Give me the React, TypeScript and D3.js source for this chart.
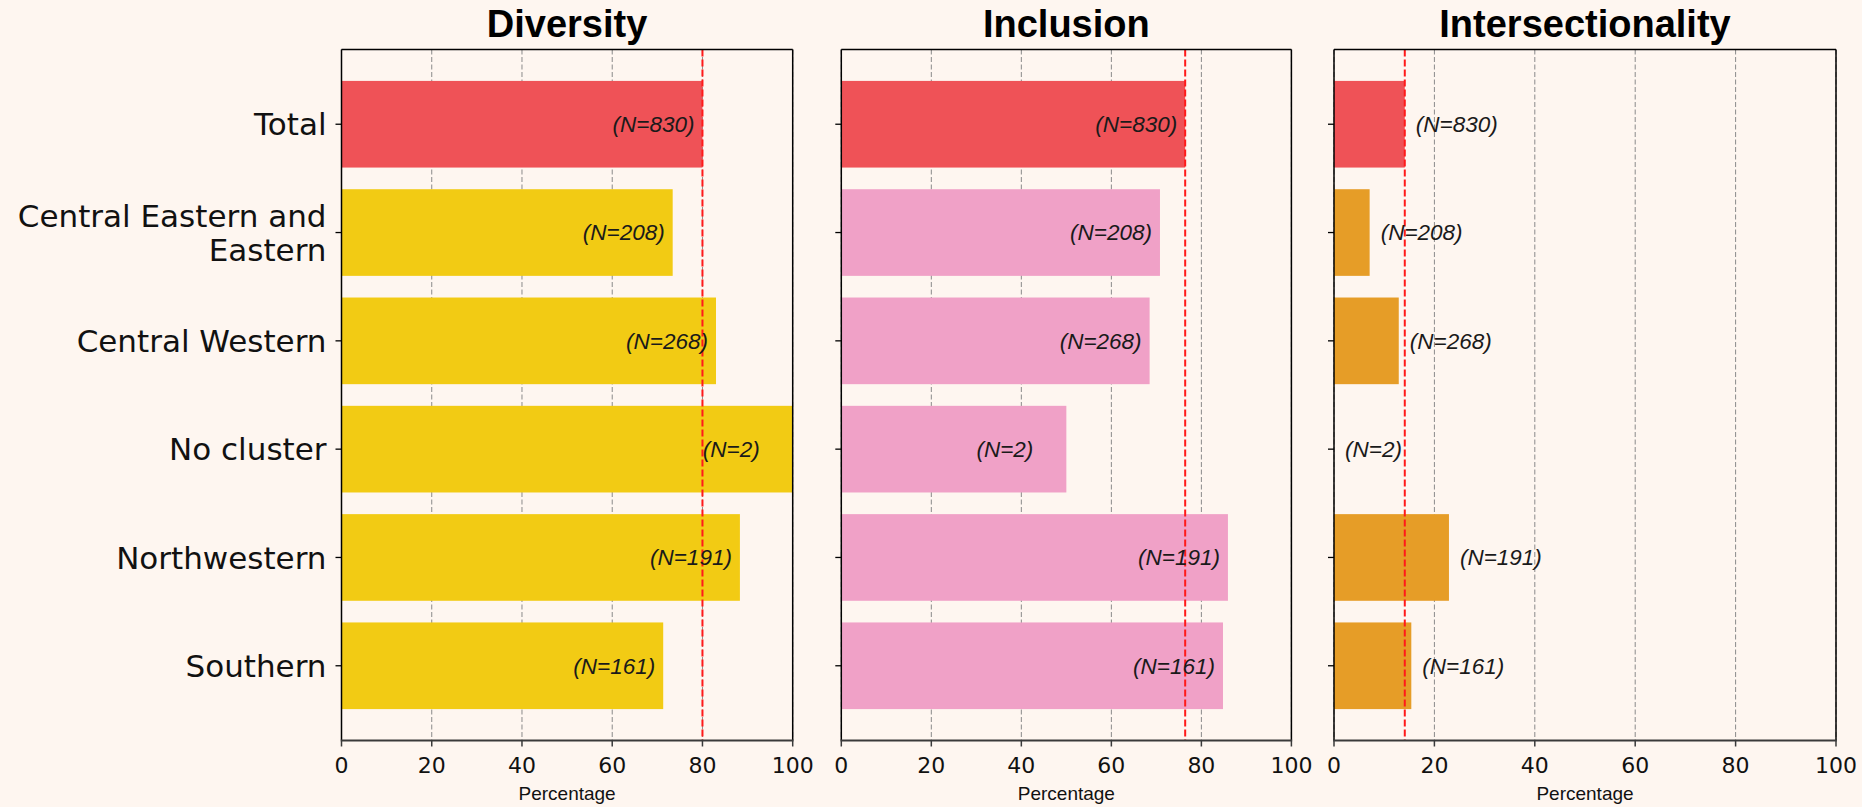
import React, { useEffect } from "react";
import * as d3 from "d3";

const categories = [
  "Total",
  "Central Eastern and\nEastern",
  "Central Western",
  "No cluster",
  "Northwestern",
  "Southern",
];
const sampleSizes = [830, 208, 268, 2, 191, 161];
const diversityValues = [80.0, 73.4, 83.0, 100, 88.3, 71.3];
const inclusionValues = [76.4, 70.8, 68.5, 50.0, 85.9, 84.8];
const intersectionalityValues = [14.1, 7.1, 12.9, 0, 22.9, 15.4];
const xTickValues = [0, 20, 40, 60, 80, 100];
const panelTitles = ["Diversity", "Inclusion", "Intersectionality"];
const xAxisLabel = "Percentage";

const BG = "#fef6f0";
const TOTAL_COLOR = "#ef5257";
const panelColors = ["#f2cb14", "#f0a1c7", "#e69d27"];

const W = 1862;
const H = 807;
const TOP = 49.5;
const BOTTOM = 740.5;
const panelX: [number, number][] = [
  [341.5, 792.7],
  [841.3, 1291.4],
  [1334, 1836],
];

type PanelProps = {
  idx: number;
  values: number[];
  labelsInside: boolean;
  showYLabels: boolean;
};

function Panel({ idx, values, labelsInside, showYLabels }: PanelProps) {
  const [x0, x1] = panelX[idx];
  const x = d3.scaleLinear().domain([0, 100]).range([x0, x1]);
  const y = d3
    .scaleBand<string>()
    .domain(categories)
    .range([TOP, BOTTOM])
    .paddingInner(0.2)
    .paddingOuter(0.29);
  const refValue = values[0];
  const cx = (x0 + x1) / 2;

  return (
    <g>
      <text
        x={cx}
        y={37}
        textAnchor="middle"
        fontFamily="'Liberation Sans', Arial, sans-serif"
        fontWeight="bold"
        fontSize={38}
        fill="#000"
      >
        {panelTitles[idx]}
      </text>
      {xTickValues.map((t) => (
        <line
          key={"g" + t}
          x1={x(t)}
          x2={x(t)}
          y1={TOP}
          y2={BOTTOM}
          stroke="#8a8a8a"
          strokeWidth={1}
          strokeDasharray="5,2.5"
        />
      ))}
      {categories.map((c, i) => (
        <rect
          key={"b" + c}
          x={x(0)}
          y={y(c)!}
          width={Math.max(0, x(values[i]) - x(0))}
          height={y.bandwidth()}
          fill={i === 0 ? TOTAL_COLOR : panelColors[idx]}
        />
      ))}
      <line
        x1={x(refValue)}
        x2={x(refValue)}
        y1={TOP}
        y2={BOTTOM}
        stroke="#ff1a1a"
        strokeWidth={2}
        strokeDasharray="7,3"
      />
      {categories.map((c, i) => {
        const cy = y(c)! + y.bandwidth() / 2;
        const label = `(N=${sampleSizes[i]})`;
        const off = labelsInside ? (sampleSizes[i] < 10 ? 33 : 8) : 11;
        return (
          <text
            key={"l" + c}
            x={labelsInside ? x(values[i]) - off : x(values[i]) + off}
            y={cy}
            dy="0.35em"
            textAnchor={labelsInside ? "end" : "start"}
            fontFamily="'Liberation Sans', Arial, sans-serif"
            fontStyle="italic"
            fontSize={22.5}
            fill="#1a1a1a"
          >
            {label}
          </text>
        );
      })}
      <line x1={x0} x2={x1} y1={TOP} y2={TOP} stroke="#000" strokeWidth={1.5} />
      <line x1={x0} x2={x0} y1={TOP} y2={BOTTOM} stroke="#000" strokeWidth={1.5} />
      <line x1={x1} x2={x1} y1={TOP} y2={BOTTOM} stroke="#000" strokeWidth={1.5} />
      <line x1={x0 - 0.75} x2={x1 + 0.75} y1={BOTTOM} y2={BOTTOM} stroke="#3a3a3a" strokeWidth={2} />
      {xTickValues.map((t) => (
        <g key={"t" + t}>
          <line x1={x(t)} x2={x(t)} y1={BOTTOM} y2={BOTTOM + 6} stroke="#3a3a3a" strokeWidth={1.5} />
          <text
            x={x(t)}
            y={BOTTOM + 32}
            textAnchor="middle"
            fontFamily="'DejaVu Sans', sans-serif"
            fontSize={22}
            fill="#111"
          >
            {t}
          </text>
        </g>
      ))}
      <text
        x={cx}
        y={800}
        textAnchor="middle"
        fontFamily="'Liberation Sans', Arial, sans-serif"
        fontSize={19}
        fill="#111"
      >
        {xAxisLabel}
      </text>
      {categories.map((c) => {
        const cy = y(c)! + y.bandwidth() / 2;
        const lines = c.split("\n");
        const lh = 34;
        return (
          <g key={"y" + c}>
            <line x1={x0 - 6} x2={x0} y1={cy} y2={cy} stroke="#000" strokeWidth={1.3} />
            {showYLabels && (
              <text
                x={x0 - 15}
                y={cy}
                textAnchor="end"
                fontFamily="'DejaVu Sans', sans-serif"
                fontSize={31}
                fill="#111"
              >
                {lines.map((ln, k) => (
                  <tspan
                    key={k}
                    x={x0 - 15}
                    y={cy + (k - (lines.length - 1) / 2) * lh}
                    dy="0.36em"
                  >
                    {ln}
                  </tspan>
                ))}
              </text>
            )}
          </g>
        );
      })}
    </g>
  );
}

export default function App() {
  useEffect(() => {
    document.body.style.margin = "0";
    document.body.style.background = BG;
  }, []);
  return (
    <svg
      width={W}
      height={H}
      viewBox={`0 0 ${W} ${H}`}
      style={{ display: "block", position: "absolute", left: 0, top: 0 }}
    >
      <rect x={0} y={0} width={W} height={H} fill={BG} />
      <Panel idx={0} values={diversityValues} labelsInside={true} showYLabels={true} />
      <Panel idx={1} values={inclusionValues} labelsInside={true} showYLabels={false} />
      <Panel idx={2} values={intersectionalityValues} labelsInside={false} showYLabels={false} />
    </svg>
  );
}
